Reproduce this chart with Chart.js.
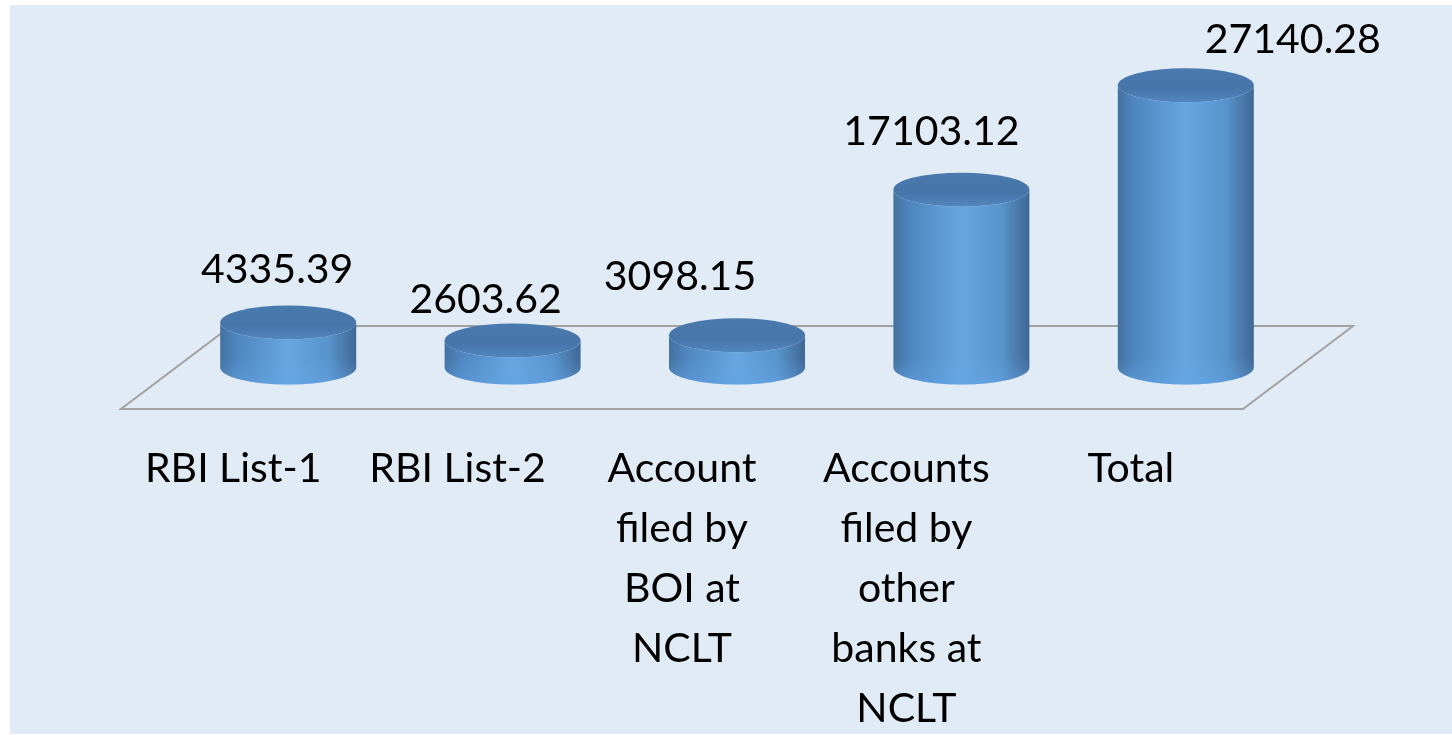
<!DOCTYPE html>
<html>
<head>
<meta charset="utf-8">
<script src="https://cdn.jsdelivr.net/npm/chart.js@4.4.1/dist/chart.umd.min.js"></script>
<style>
  html, body { margin: 0; padding: 0; background: #ffffff; }
  #wrap { width: 1452px; height: 735px; }
</style>
</head>
<body>
<div id="wrap"><canvas id="npaChart"></canvas></div>
<script>
// data
var categories = [
  ["RBI List-1"],
  ["RBI List-2"],
  ["Account", "filed by", "BOI at", "NCLT"],
  ["Accounts", "filed by", "other", "banks at", "NCLT"],
  ["Total"]
];
var amounts = [4335.39, 2603.62, 3098.15, 17103.12, 27140.28];
var amountLabels = ["4335.39", "2603.62", "3098.15", "17103.12", "27140.28"];

// fake 3d depth of the floor
var depthX = 110, depthY = -83;
var fontFamily = "Lato, 'Open Sans', sans-serif";

var panelPlugin = {
  id: 'panel',
  beforeDraw: function (chart) {
    var c = chart.ctx;
    c.save();
    c.fillStyle = '#ffffff';
    c.fillRect(0, 0, chart.width, chart.height);
    c.fillStyle = '#E1EBF5';
    c.fillRect(10, 5, chart.width - 10, 729);
    c.restore();
  }
};

var floorPlugin = {
  id: 'floor3d',
  beforeDatasetsDraw: function (chart) {
    var a = chart.chartArea, c = chart.ctx;
    c.save();
    c.strokeStyle = '#A2A2A2';
    c.lineWidth = 2;
    c.beginPath();
    c.moveTo(a.left, a.bottom);
    c.lineTo(a.right, a.bottom);
    c.lineTo(a.right + depthX, a.bottom + depthY);
    c.lineTo(a.left + depthX, a.bottom + depthY);
    c.closePath();
    c.stroke();
    c.restore();
  }
};

// label nudges (Excel placed them a bit off-centre)
var labelShift = [-11, -27, -57, -30, 107];
var labelGap = [22, 10, 28, 28, 15];

var cylinderPlugin = {
  id: 'cylinders',
  afterDatasetsDraw: function (chart) {
    var c = chart.ctx;
    var meta = chart.getDatasetMeta(0);
    meta.data.forEach(function (bar, i) {
      var x = bar.x + depthX / 2;
      var topY = bar.y + depthY / 2;
      var botY = bar.base + depthY / 2;
      var rx = bar.width / 2;
      var ry = 17;

      c.save();
      // body
      var g = c.createLinearGradient(x - rx, 0, x + rx, 0);
      g.addColorStop(0, '#44719F');
      g.addColorStop(0.12, '#4F86BE');
      g.addColorStop(0.5, '#67A6E0');
      g.addColorStop(0.8, '#5893CB');
      g.addColorStop(1, '#3F6794');
      c.beginPath();
      c.moveTo(x - rx, topY);
      c.lineTo(x - rx, botY);
      c.ellipse(x, botY, rx, ry, 0, Math.PI, 0, true);
      c.lineTo(x + rx, topY);
      c.ellipse(x, topY, rx, ry, 0, 0, Math.PI, false);
      c.closePath();
      c.fillStyle = g;
      c.fill();

      // lighter rim near the bottom
      var gb = c.createLinearGradient(0, botY - 10, 0, botY + ry);
      gb.addColorStop(0, 'rgba(100,165,235,0)');
      gb.addColorStop(1, 'rgba(100,165,235,0.45)');
      c.beginPath();
      c.moveTo(x - rx, botY - 10);
      c.lineTo(x - rx, botY);
      c.ellipse(x, botY, rx, ry, 0, Math.PI, 0, true);
      c.lineTo(x + rx, botY - 10);
      c.closePath();
      c.fillStyle = gb;
      c.fill();

      // top cap
      var gt = c.createLinearGradient(0, topY - ry, 0, topY + ry);
      gt.addColorStop(0, '#4979AE');
      gt.addColorStop(0.6, '#4675A9');
      gt.addColorStop(1, '#5186BE');
      c.beginPath();
      c.ellipse(x, topY, rx, ry, 0, 0, Math.PI * 2);
      c.fillStyle = gt;
      c.fill();

      // value label
      c.fillStyle = '#000000';
      c.font = '41px ' + fontFamily;
      c.textAlign = 'center';
      c.textBaseline = 'alphabetic';
      c.fillText(amountLabels[i], x + labelShift[i], topY - ry - labelGap[i]);
      c.restore();
    });
  }
};

new Chart(document.getElementById('npaChart'), {
  type: 'bar',
  data: {
    labels: categories,
    datasets: [{
      data: amounts,
      backgroundColor: 'rgba(0,0,0,0)',
      borderWidth: 0,
      barPercentage: 0.606,
      categoryPercentage: 1
    }]
  },
  options: {
    responsive: true,
    maintainAspectRatio: false,
    animation: false,
    layout: { padding: { left: 121, right: 209, top: 97, bottom: 0 } },
    plugins: {
      legend: { display: false },
      tooltip: { enabled: false }
    },
    scales: {
      x: {
        grid: { display: false, drawTicks: false },
        border: { display: false },
        ticks: {
          color: '#000000',
          padding: 30,
          maxRotation: 0,
          autoSkip: false,
          font: { family: fontFamily, size: 41, lineHeight: 1.46 }
        },
        afterFit: function (scale) { scale.height = 326; }
      },
      y: {
        display: false,
        min: 0,
        max: 30000
      }
    }
  },
  plugins: [panelPlugin, floorPlugin, cylinderPlugin]
});
</script>
</body>
</html>
